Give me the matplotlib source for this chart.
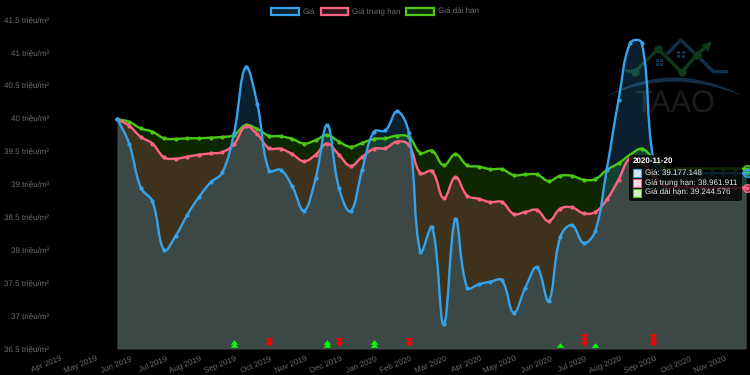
import numpy as np
import matplotlib
matplotlib.use("Agg")
import matplotlib.pyplot as plt
from matplotlib.colors import to_rgb, to_rgba
from matplotlib.patches import FancyBboxPatch, Patch, PathPatch, Rectangle
from matplotlib.path import Path
from matplotlib.transforms import Affine2D, ScaledTranslation

plt.rcParams["font.family"] = ["Liberation Sans", "DejaVu Sans"]
plt.rcParams["text.hinting"] = "none"

# values, one point every 10 days
gia = [40.0, 39.63, 38.96, 38.75, 38.01, 38.23, 38.55, 38.82, 39.04, 39.19, 39.79,
       40.79, 40.23, 39.22, 39.23, 38.98, 38.61, 39.10, 39.91, 38.96, 38.60, 39.23,
       39.81, 39.83, 40.12, 39.79, 37.98, 38.36, 36.88, 38.48, 37.44, 37.49, 37.53,
       37.55, 37.06, 37.44, 37.75, 37.24, 38.21, 38.39, 38.12, 38.30, 39.25, 40.29,
       41.16, 41.16, 39.38, 39.18, 39.18, 39.18, 39.18, 39.18, 39.18, 39.18, 39.177]
trung_han = [40.0, 39.90, 39.73, 39.63, 39.42, 39.40, 39.43, 39.46, 39.48, 39.50, 39.62,
             39.89, 39.77, 39.56, 39.55, 39.47, 39.36, 39.46, 39.63, 39.46, 39.29, 39.43,
             39.55, 39.56, 39.66, 39.61, 39.18, 39.21, 38.80, 39.12, 38.84, 38.79, 38.74,
             38.74, 38.56, 38.59, 38.62, 38.45, 38.64, 38.66, 38.57, 38.59, 38.78, 39.08,
             39.41, 39.35, 39.15, 38.98, 38.97, 38.97, 38.97, 38.96, 38.96, 38.96, 38.962]
dai_han = [40.0, 39.96, 39.86, 39.81, 39.71, 39.70, 39.71, 39.71, 39.72, 39.73, 39.76,
           39.91, 39.85, 39.75, 39.74, 39.70, 39.63, 39.68, 39.76, 39.66, 39.58, 39.64,
           39.70, 39.71, 39.75, 39.73, 39.49, 39.52, 39.30, 39.47, 39.30, 39.28, 39.24,
           39.24, 39.15, 39.16, 39.16, 39.06, 39.14, 39.14, 39.08, 39.09, 39.23, 39.33,
           39.46, 39.55, 39.40, 39.25, 39.25, 39.25, 39.25, 39.25, 39.25, 39.25, 39.245]

month_labels = ["Apr 2019", "May 2019", "Jun 2019", "Jul 2019", "Aug 2019", "Sep 2019",
                "Oct 2019", "Nov 2019", "Dec 2019", "Jan 2020", "Feb 2020", "Mar 2020",
                "Apr 2020", "May 2020", "Jun 2020", "Jul 2020", "Aug 2020", "Sep 2020",
                "Oct 2020", "Nov 2020"]
month_ticks = list(range(-6, 54, 3))
y_ticks = [36.5, 37, 37.5, 38, 38.5, 39, 39.5, 40, 40.5, 41, 41.5]
y_labels = ["36.5 triệu/m²", "37 triệu/m²", "37.5 triệu/m²", "38 triệu/m²", "38.5 triệu/m²",
            "39 triệu/m²", "39.5 triệu/m²", "40 triệu/m²", "40.5 triệu/m²", "41 triệu/m²",
            "41.5 triệu/m²"]

# buy / sell signals: point index and how many arrows are stacked
buy_idx = [10, 18, 22, 38, 41]
buy_count = [2, 2, 2, 1, 1]
sell_idx = [13, 19, 25, 40, 46]
sell_count = [2, 2, 2, 3, 3]

BLUE = "#36a2eb"
PINK = "#ff6384"
GREEN = "#4bc814"
GREY = "#6e6e6e"
FONT = 5.8
X_PX = 11.652
Y_PX = 65.8


def bezier_path(xs, ys, tension=0.4):
    # same control points as a chart.js line, worked out in pixel space
    xs = np.asarray(xs, float)
    ys = np.asarray(ys, float)
    n = len(xs)
    before = np.zeros((n, 2))
    after = np.zeros((n, 2))
    for i in range(n):
        prev = max(i - 1, 0)
        nxt = min(i + 1, n - 1)
        d01 = np.hypot((xs[i] - xs[prev]) * X_PX, (ys[i] - ys[prev]) * Y_PX)
        d12 = np.hypot((xs[nxt] - xs[i]) * X_PX, (ys[nxt] - ys[i]) * Y_PX)
        total = max(d01 + d12, 1e-9)
        fa = tension * d01 / total
        fb = tension * d12 / total
        dx, dy = xs[nxt] - xs[prev], ys[nxt] - ys[prev]
        before[i] = xs[i] - fa * dx, ys[i] - fa * dy
        after[i] = xs[i] + fb * dx, ys[i] + fb * dy
    verts = [(xs[0], ys[0])]
    codes = [Path.MOVETO]
    for i in range(1, n):
        verts += [tuple(after[i - 1]), tuple(before[i]), (xs[i], ys[i])]
        codes += [Path.CURVE4] * 3
    return verts, codes


fig = plt.figure(figsize=(7.5, 3.75), dpi=100, facecolor="black")
left, right, top, bottom = 45, 746.7, 20.5, 349.5
ax = fig.add_axes([left / 750, 1 - bottom / 375, (right - left) / 750, (bottom - top) / 375])
ax.set_facecolor("black")
ax.set_xlim(-(117.5 - left) / X_PX, 54)
ax.set_ylim(36.5, 41.5)
for s in ax.spines.values():
    s.set_visible(False)

# pixel coordinates of the picture, for the logo and the tooltip
px = Affine2D().scale(1, -1).translate(0, 375)

# watermark logo
logo_blue = "#12304a"
logo_green = "#0e3a1c"
for pts, col in [
    ([(668, 53), (680.7, 40), (693, 51.7)], logo_blue),
    ([(701.7, 60), (713.3, 71.7), (726.7, 71.7)], logo_blue),
    ([(626.7, 70.7), (635, 71.7), (658.3, 49), (681.7, 72.3), (696.7, 55), (709, 44)], logo_green),
]:
    ax.plot(*zip(*pts), color=col, lw=2.4, transform=px, clip_on=False, zorder=0.2)
ax.plot([658.3, 681.7, 696.7, 635], [49, 72.3, 55, 71.7], "o", ms=5, color=logo_green,
        transform=px, clip_on=False, zorder=0.2)
ax.add_patch(PathPatch(Path([(711.7, 41.7), (701, 45), (708, 52), (711.7, 41.7)]), fc=logo_green, ec="none",
                       transform=px, clip_on=False, zorder=0.2))
for wx, wy in [(659.3, 62.3), (681, 54.3)]:
    for ox in (-3.6, 0.6):
        for oy in (-3.6, 0.6):
            ax.add_patch(Rectangle((wx + ox, wy + oy), 3, 3, fc=logo_blue, ec="none", transform=px,
                                   clip_on=False, zorder=0.2))
ax.add_patch(PathPatch(Path([(605, 97), (672, 58), (745, 97), (672, 66), (605, 97)],
                            [Path.MOVETO, Path.CURVE3, Path.CURVE3, Path.CURVE3, Path.CURVE3]),
                       fc=logo_blue, ec="none", transform=px, clip_on=False, zorder=0.2))
ax.text(675, 112, "TAAO", color="#1c1c1c", fontsize=22, ha="center", va="baseline", transform=px, zorder=0.3)

x = np.arange(len(gia))
series = [(dai_han, GREEN, "Giá dài hạn"), (trung_han, PINK, "Giá trung hạn"), (gia, BLUE, "Giá")]
for z, (vals, col, name) in enumerate(series):
    verts, codes = bezier_path(x, vals)
    fill_verts = verts + [(x[-1], 36.5), (x[0], 36.5), (x[0], vals[0])]
    fill_codes = codes + [Path.LINETO, Path.LINETO, Path.CLOSEPOLY]
    ax.add_patch(PathPatch(Path(fill_verts, fill_codes), fc=col, alpha=0.2, ec="none", zorder=1 + z * 0.1))
for z, (vals, col, name) in enumerate(series):
    verts, codes = bezier_path(x, vals)
    ax.add_patch(PathPatch(Path(verts, codes), fc="none", ec=col, lw=1.7, zorder=2 + z * 0.1, clip_on=False))
    ax.plot(x, vals, "o", ms=3, color=col, mew=0, zorder=2 + z * 0.1, clip_on=False)

# signals, wide flat triangles stacked on each other
up = [(-1, -0.6), (1, -0.6), (0, 0.6), (-1, -0.6)]
down = [(-1, 0.6), (1, 0.6), (0, -0.6), (-1, 0.6)]
for idx, n in zip(buy_idx, buy_count):
    ax.plot([idx] * n, [36.57 + k * 0.05 for k in range(n)], marker=up, ls="none", ms=5.5, color="#00ff00", mew=0, zorder=3)
for idx, n in zip(sell_idx, sell_count):
    ax.plot([idx] * n, [36.58 + k * 0.06 for k in range(n)], marker=down, ls="none", ms=5.5, color="#ff0000", mew=0, zorder=3)

ax.set_yticks(y_ticks, y_labels)
ax.set_xticks(month_ticks, month_labels)
ax.tick_params(axis="both", length=0, colors=GREY, labelsize=FONT)
ax.tick_params(axis="y", pad=-3)
ax.tick_params(axis="x", pad=4)
for lab in ax.get_xticklabels():
    lab.set_rotation(22)
    lab.set_ha("right")
    lab.set_va("top")
    lab.set_rotation_mode("anchor")
    lab.set_transform(lab.get_transform() + ScaledTranslation(13 / 100, 0, fig.dpi_scale_trans))

handles = [Patch(fc=to_rgba(col, 0.2), ec=col, lw=1.6, label=name) for vals, col, name in series[::-1]]
fig.legend(handles=handles, loc="upper center", bbox_to_anchor=(0.5, 0.98), ncols=3, frameon=False,
           fontsize=FONT, labelcolor=GREY, handlelength=3.4, handleheight=1.1, handletextpad=0.5,
           columnspacing=0.7, borderpad=0, borderaxespad=0)

# tooltip of the hovered last point
ax.add_patch(FancyBboxPatch((632, 158), 107, 40, boxstyle="round,pad=3,rounding_size=3",
                            fc=(0, 0, 0, 0.8), ec="none", transform=px, clip_on=False, zorder=5))
ax.text(632.5, 161, "2020-11-20", color="white", fontsize=FONT, fontweight="bold", va="center",
        transform=px, zorder=6)
rows = [("Giá: 39.177.148", BLUE, 173.3), ("Giá trung hạn: 38.961.911", PINK, 183),
        ("Giá dài hạn: 39.244.576", GREEN, 192.7)]
for text, col, ty in rows:
    tint = tuple(0.75 + 0.25 * c for c in to_rgb(col))
    ax.add_patch(Rectangle((632.7, ty - 4), 8, 8, fc=tint, ec=col, lw=0.8,
                           transform=px, clip_on=False, zorder=6))
    ax.text(645, ty, text, color="#e8e8e8", fontsize=FONT, va="center", transform=px, zorder=6)

for vals, col, name in series:
    ax.plot(x[-1], vals[-1], "o", ms=5.5, mfc=to_rgba(col, 0.3), mec=col, mew=1.1,
            clip_on=False, zorder=7)

fig.savefig("out.png", dpi=100, facecolor="black")
